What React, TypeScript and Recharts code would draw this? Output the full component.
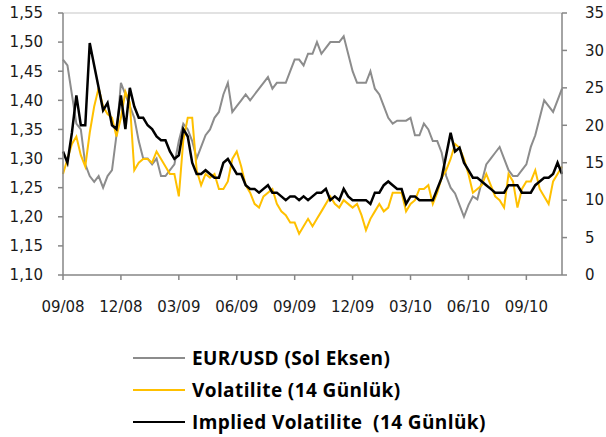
import { Legend, Line, LineChart, ReferenceLine, XAxis, YAxis } from "recharts";

// one point per week, starting at the 09/08 tick
const tickLabels = ["09/08", "12/08", "03/09", "06/09", "09/09", "12/09", "03/10", "06/10", "09/10"];

const eurUsd = [
  1.47, 1.46, 1.41, 1.36, 1.35, 1.29, 1.27, 1.26, 1.27, 1.25, 1.27, 1.28, 1.34, 1.43, 1.41, 1.39, 1.37, 1.33, 1.3,
  1.3, 1.29, 1.3, 1.27, 1.27, 1.28, 1.29, 1.33, 1.36, 1.35, 1.33, 1.3, 1.32, 1.34, 1.35, 1.37, 1.38, 1.41, 1.43,
  1.38, 1.39, 1.4, 1.41, 1.4, 1.41, 1.42, 1.43, 1.44, 1.42, 1.43, 1.43, 1.43, 1.45, 1.47, 1.47, 1.46, 1.48,
  1.48, 1.5, 1.48, 1.49, 1.5, 1.5, 1.5, 1.51, 1.48, 1.45, 1.43, 1.43, 1.43, 1.45, 1.42, 1.41, 1.39, 1.37, 1.36,
  1.365, 1.365, 1.365, 1.37, 1.34, 1.34, 1.36, 1.35, 1.33, 1.33, 1.31, 1.27, 1.25, 1.24, 1.22, 1.2, 1.22, 1.235,
  1.23, 1.26, 1.29, 1.3, 1.31, 1.32, 1.3, 1.28, 1.27, 1.27, 1.28, 1.29, 1.32, 1.34, 1.37, 1.4, 1.39, 1.38, 1.4, 1.42,
];

const volatility = [
  13.5, 15.5, 17.5, 18.5, 16, 14.5, 19, 22.5, 25, 22.5, 21.5, 21, 18.5, 21, 24.5, 23, 14, 15, 15.5,
  15.5, 15, 16.5, 15.5, 14.5, 13.5, 13.5, 10.5, 18, 21, 21, 14, 12, 13.5, 13, 13.5, 11.5, 11.5, 12.5,
  15.5, 16.5, 14.5, 12, 11, 9.5, 9, 10.5, 11, 11.5, 9.5, 8.5, 8, 7, 7, 5.5, 6.5, 7.5,
  6.5, 7.5, 8.5, 9.5, 10.5, 9.5, 9, 10, 9.5, 9, 9.5, 8, 6, 7.5, 8.5, 9.5, 8.5, 9, 11,
  11, 11, 8.5, 9.5, 10, 11.5, 11.5, 12, 9.5, 11, 13, 14, 15.5, 17.5, 17, 15.5, 13.5, 11,
  11.5, 12, 13.5, 12, 10.5, 10, 9, 13.5, 12.5, 9, 11.5, 12.5, 12.5, 14, 11.5, 10.5, 9.5, 12.5, 13.5, 14.5,
];

const impliedVol = [
  16.5, 15, 19, 24, 20, 20, 31, 28, 25, 22, 23, 20, 19.5, 24, 19.5, 25, 22.5, 21, 21,
  20, 19.5, 18.5, 18, 18, 16.5, 15.5, 16, 19.5, 18.5, 15, 13.5, 13.5, 14, 13.5, 13, 13, 15, 15.5,
  14.5, 13.5, 13.5, 12, 11.5, 11.5, 11, 11.5, 12, 11, 11, 10.5, 10, 10.5, 10.5, 10, 10.5, 10,
  10.5, 11, 11, 11.5, 10, 10.5, 10, 11.5, 10.5, 10, 10, 10, 10, 9.5, 11, 11, 12, 12.5, 12,
  11.5, 11.5, 9.5, 10.5, 10.5, 10, 10, 10, 10, 11.5, 13, 16, 19, 16.5, 17, 15, 14, 13,
  13, 12.5, 12, 11.5, 11, 11, 11, 12, 12, 12, 11, 11, 11, 12, 12.5, 13, 13, 13.5, 15, 13.5,
];

const leftTicks = [1.1, 1.15, 1.2, 1.25, 1.3, 1.35, 1.4, 1.45, 1.5, 1.55];
const rightTicks = [0, 5, 10, 15, 20, 25, 30, 35];
const weeksPerTick = 13;
const seriesOrder = ["eur", "vol", "impl"];

const data = eurUsd.map((v, i) => ({
  week: i,
  eur: v,
  vol: volatility[i],
  impl: impliedVol[i],
}));

const axisColor = "#868686";
const tickFont = { fontFamily: "DejaVu Sans", fontSize: 15, fill: "#1a1a1a" };

function LegendRows(props: any) {
  const items = [...props.payload].sort(
    (a: any, b: any) => seriesOrder.indexOf(a.dataKey) - seriesOrder.indexOf(b.dataKey)
  );
  return (
    <div style={{ paddingLeft: 133 }}>
      {items.map((p: any) => (
        <div key={p.dataKey} style={{ display: "flex", alignItems: "center", height: 32 }}>
          <div style={{ width: 52, height: 2, background: p.color, marginRight: 7 }} />
          <span
            style={{
              fontFamily: "Open Sans",
              fontWeight: 700,
              fontSize: 19,
              letterSpacing: 0.4,
              whiteSpace: "pre",
              color: "#000",
            }}
          >
            {p.value}
          </span>
        </div>
      ))}
    </div>
  );
}

export default function App() {
  return (
    <div style={{ position: "absolute", left: 0, top: 0, background: "#fff" }}>
      <LineChart width={606} height={437} data={data} margin={{ top: 13, right: 0, bottom: 0, left: 0 }}>
        <XAxis
          dataKey="week"
          type="number"
          domain={[0, eurUsd.length - 1]}
          ticks={tickLabels.map((_, i) => i * weeksPerTick)}
          tickFormatter={(v) => tickLabels[Math.round(v / weeksPerTick)]}
          height={162}
          stroke={axisColor}
          strokeWidth={1.5}
          tickSize={5}
          tickMargin={21}
          tick={tickFont}
          interval={0}
        />
        <YAxis
          yAxisId="left"
          domain={[1.1, 1.55]}
          ticks={leftTicks}
          tickFormatter={(v) => v.toFixed(2).replace(".", ",")}
          width={63}
          stroke={axisColor}
          strokeWidth={1.5}
          tickSize={5}
          tickMargin={15}
          tick={tickFont}
          interval={0}
        />
        <YAxis
          yAxisId="right"
          orientation="right"
          domain={[0, 35]}
          ticks={rightTicks}
          width={44}
          stroke={axisColor}
          strokeWidth={1.5}
          tickSize={5}
          tickMargin={18}
          tick={{ ...tickFont, textAnchor: "start" }}
          interval={0}
        />
        <ReferenceLine yAxisId="left" y={1.55} stroke="#d9d9d9" strokeWidth={1.5} />
        <Line
          yAxisId="left"
          dataKey="eur"
          name="EUR/USD (Sol Eksen)"
          stroke="#8c8c8c"
          strokeWidth={2}
          dot={false}
          isAnimationActive={false}
        />
        <Line
          yAxisId="right"
          dataKey="vol"
          name="Volatilite (14 Günlük)"
          stroke="#ffc000"
          strokeWidth={2}
          dot={false}
          isAnimationActive={false}
        />
        <Line
          yAxisId="right"
          dataKey="impl"
          name="Implied Volatilite  (14 Günlük)"
          stroke="#000000"
          strokeWidth={2.5}
          dot={false}
          isAnimationActive={false}
        />
        <Legend
          layout="vertical"
          align="center"
          verticalAlign="middle"
          wrapperStyle={{ top: 342, left: 0, width: 606 }}
          content={LegendRows}
        />
      </LineChart>
    </div>
  );
}
